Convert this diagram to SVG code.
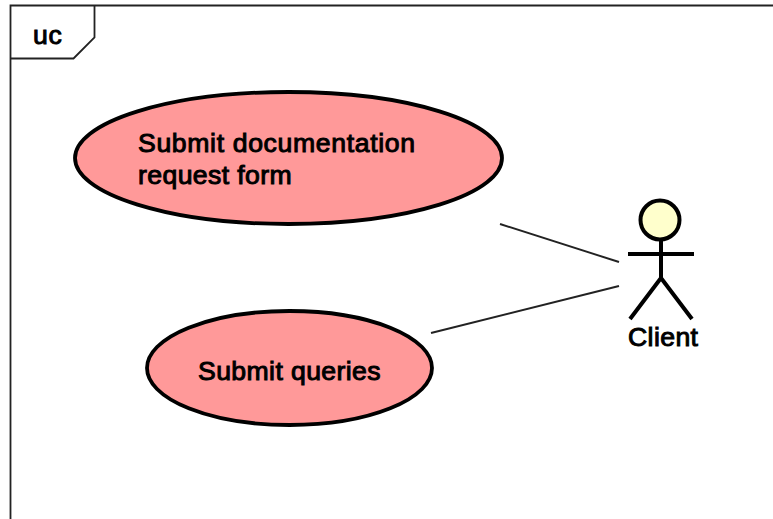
<svg xmlns="http://www.w3.org/2000/svg" width="773" height="519" viewBox="0 0 773 519">
<style>
text{font-family:"Liberation Sans",Arial,sans-serif;font-weight:normal;fill:#000;stroke:#000;stroke-width:1px}
.uc{fill:#ff9999;stroke:#000;stroke-width:3.8}
.t{font-size:26.600px;letter-spacing:.65px}
.s{font-size:26.600px;letter-spacing:.4px}
.f{fill:none;stroke:#222;stroke-width:1.8}
.c{fill:none;stroke:#222;stroke-width:1.9}
.a{fill:none;stroke:#000;stroke-width:4}
</style>
<rect width="773" height="519" fill="#fff"/>
<g id="frame">
<path class="f" d="M10.500 519V5.500H773"/>
<path class="f" d="M10.500 58.500H73.500L94.500 37.500V5.500"/>
<text x="33" y="44" class="t">uc</text>
</g>
<g id="connectors">
<line class="c" x1="500" y1="224" x2="619" y2="262"/>
<line class="c" x1="431" y1="333" x2="619" y2="286"/>
</g>
<g id="node-documentation">
<ellipse class="uc" cx="288.500" cy="158" rx="213.500" ry="66"/>
<text x="138" y="152" class="t">Submit documentation</text>
<text x="138" y="184" class="s">request form</text>
</g>
<g id="node-queries">
<ellipse class="uc" cx="289.500" cy="368" rx="142.500" ry="57"/>
<text x="198" y="380" class="s">Submit queries</text>
</g>
<g id="node-client">
<circle cx="660" cy="220" r="19.500" fill="#ffffcc" stroke="#000" stroke-width="4"/>
<path class="a" d="M661 240V278M628 254H694M661 278L630 319M661 278L692 319"/>
<text x="628" y="346" class="s">Client</text>
</g>
</svg>
